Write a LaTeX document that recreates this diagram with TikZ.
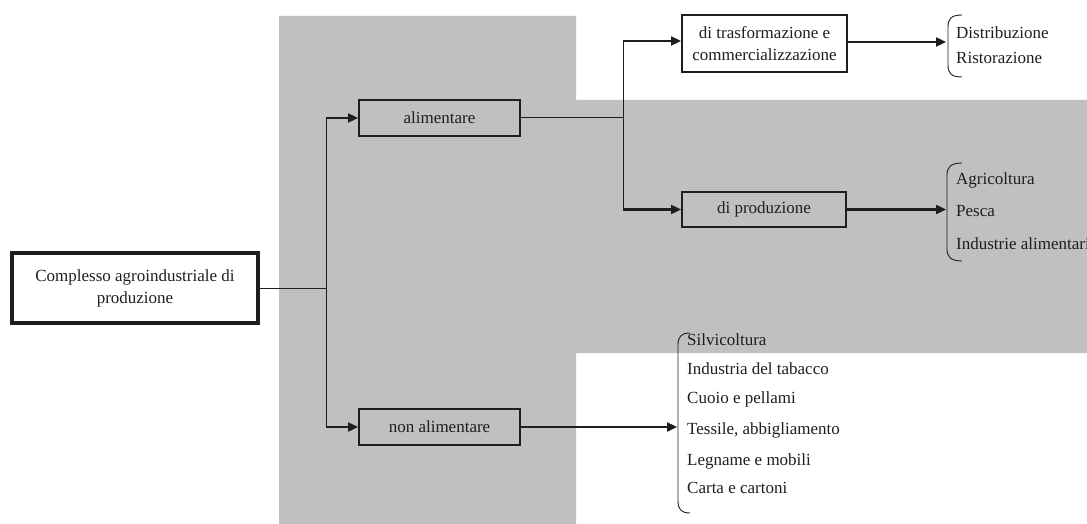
\documentclass[tikz,border=0pt]{standalone}
\usepackage{fontspec}
\setmainfont{Liberation Serif}
\usetikzlibrary{arrows.meta}
\definecolor{bg}{RGB}{192,192,192}
\definecolor{ink}{RGB}{30,30,30}
\begin{document}
\begin{tikzpicture}[x=1pt,y=-1pt,
  box/.style={draw=ink, line width=2pt, align=center, inner sep=0pt, text=ink,
    font=\fontsize{17}{22}\selectfont},
  item/.style={anchor=base west, inner sep=0pt, text=ink, font=\fontsize{17}{20}\selectfont},
  link/.style={draw=ink, line width=1pt},
  arr/.style={draw=ink, line width=2.3pt, -{Triangle[length=10pt,width=9pt]}},
  brk/.style={draw=ink, line width=0.9pt}]
\useasboundingbox (0,0) rectangle (1087,524);
\clip (0,0) rectangle (1087,524);
\fill[bg] (279,16) -- (576,16) -- (576,100) -- (1087,100) -- (1087,353) -- (576,353) -- (576,524) -- (279,524) -- cycle;

% boxes
\node[box, line width=3.2pt, minimum width=246pt, minimum height=70pt] (cp) at (135,288) {Complesso agroindustriale di\\produzione};
\node[box, minimum width=161pt, minimum height=36pt] (alim) at (439.5,118) {alimentare};
\node[box, minimum width=161pt, minimum height=36pt] (nonalim) at (439.5,427) {non alimentare};
\node[box, minimum width=165pt, minimum height=57pt] (trasf) at (764.5,43.5) {di trasformazione e\\commercializzazione};
\node[box, minimum width=164pt, minimum height=35pt] (prod) at (764,209.5) {di produzione};

% junctions
\coordinate (j1) at (326,288);
\coordinate (j1a) at (326,118);
\coordinate (j1b) at (326,427);
\coordinate (j2) at (623,118);
\coordinate (j2a) at (623,41);
\coordinate (j2b) at (623,209.5);
\coordinate (b1) at (946,42);
\coordinate (b2) at (946,209.5);
\coordinate (b3) at (677,427);

% connectors
\draw[link] (cp.east) -- (j1);
\draw[link] (j1a) -- (j1b);
\draw[arr] (j1a) -- (alim.west);
\draw[arr] (j1b) -- (nonalim.west);
\draw[link] (alim.east) -- (j2);
\draw[link] (j2a) -- (j2b);
\draw[arr] (j2a) -- (j2a -| trasf.west);
\draw[arr] (j2b) -- (prod.west);
\draw[arr] (trasf.east |- b1) -- (b1);
\draw[arr] (prod.east) -- (b2);
\draw[arr] (nonalim.east) -- (b3);

% brackets
\draw[brk] (962,15) .. controls (951,15) and (948,19) .. (948,27) -- (948,65) .. controls (948,73) and (951,77) .. (962,77);
\draw[brk] (962,163) .. controls (951,163) and (947,167) .. (947,175) -- (947,249) .. controls (947,257) and (951,261) .. (962,261);
\draw[brk] (690,333) .. controls (681,333) and (678,337) .. (678,345) -- (678,501) .. controls (678,509) and (681,513) .. (690,513);

% lists
\node[item] (d1) at (956,39) {Distribuzione};
\node[item] (d2) at (956,64) {Ristorazione};
\node[item] (p1) at (956,185) {Agricoltura};
\node[item] (p2) at (956,216) {Pesca};
\node[item] (p3) at (956,249) {Industrie alimentari};
\node[item] (n1) at (687,345) {Silvicoltura};
\node[item] (n2) at (687,374) {Industria del tabacco};
\node[item] (n3) at (687,403) {Cuoio e pellami};
\node[item] (n4) at (687,434) {Tessile, abbigliamento};
\node[item] (n5) at (687,465) {Legname e mobili};
\node[item] (n6) at (687,493) {Carta e cartoni};
\end{tikzpicture}
\end{document}
